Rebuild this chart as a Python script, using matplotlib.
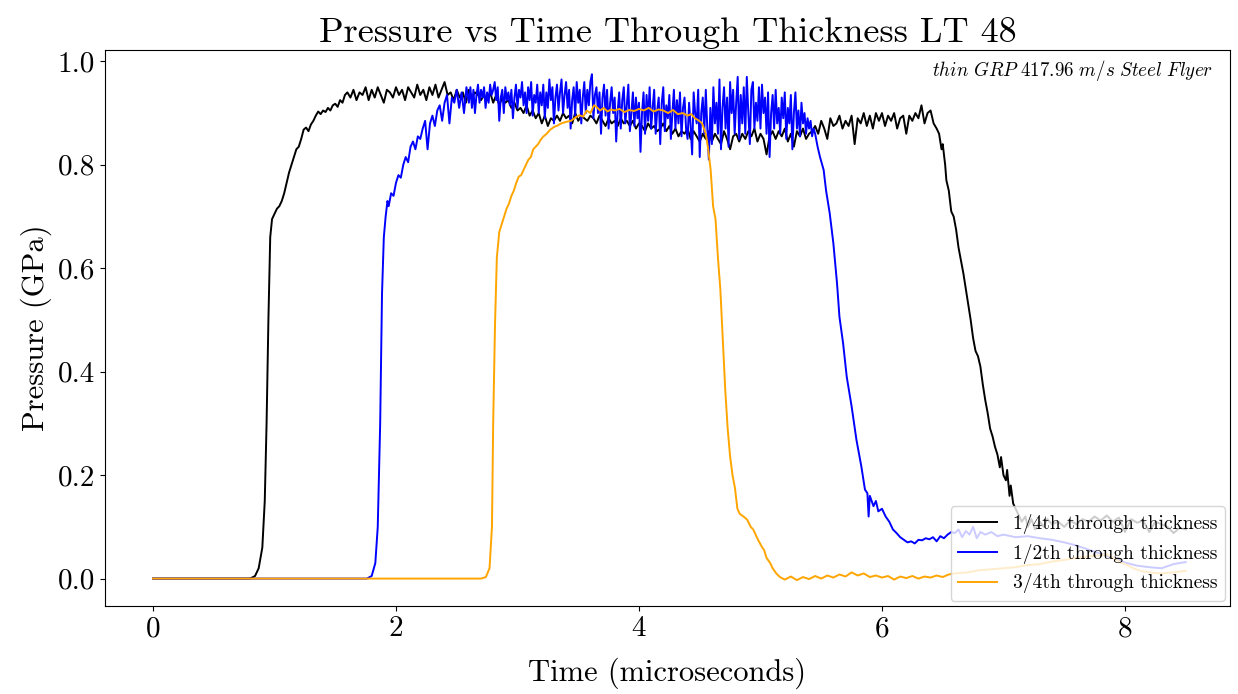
import numpy as np
import matplotlib
matplotlib.use("Agg")
import matplotlib.pyplot as plt

# ---------------- data ----------------
# 1/4th through thickness (black)
black_rise_t = [0.0, 0.80, 0.84, 0.87, 0.90, 0.92, 0.935, 0.95, 0.965, 0.98, 1.00, 1.02, 1.04,
                1.06, 1.08, 1.10, 1.12, 1.14, 1.16, 1.18, 1.20, 1.22, 1.24, 1.26, 1.28, 1.30,
                1.32, 1.34, 1.36, 1.38, 1.40, 1.42, 1.44, 1.46, 1.48, 1.50, 1.52, 1.54, 1.56,
                1.58, 1.60]
black_rise_p = [0.0, 0.0, 0.005, 0.02, 0.06, 0.15, 0.30, 0.50, 0.66, 0.695, 0.705, 0.715, 0.72,
                0.73, 0.745, 0.765, 0.785, 0.80, 0.815, 0.83, 0.835, 0.85, 0.868, 0.872, 0.865,
                0.878, 0.885, 0.895, 0.903, 0.898, 0.905, 0.902, 0.91, 0.905, 0.915, 0.918,
                0.912, 0.925, 0.92, 0.935, 0.94]
# plateau sampled every 0.025 us from 1.625 to 6.45
black_plateau_start = 1.625
black_dt = 0.025
black_plateau_p = [
    0.93, 0.945, 0.925, 0.94, 0.935, 0.95, 0.925, 0.945, 0.93, 0.95, 0.935, 0.92,
    0.945, 0.94, 0.93, 0.95, 0.935, 0.945, 0.925, 0.95, 0.94, 0.93, 0.955, 0.935,
    0.945, 0.925, 0.95, 0.935, 0.955, 0.93, 0.945, 0.96, 0.935, 0.94, 0.925, 0.945,
    0.93, 0.94, 0.92, 0.945, 0.93, 0.94, 0.935, 0.925,
    0.935, 0.925, 0.94, 0.92, 0.935, 0.915, 0.93, 0.92, 0.925, 0.91, 0.92, 0.905,
    0.91, 0.90, 0.915, 0.895, 0.905, 0.89, 0.90, 0.88, 0.895, 0.875, 0.89, 0.885,
    0.895, 0.885, 0.90, 0.89, 0.895, 0.88, 0.90, 0.885, 0.895, 0.89, 0.885, 0.895,
    0.89, 0.88, 0.895, 0.885, 0.875, 0.89, 0.88, 0.885, 0.875, 0.89, 0.88, 0.885,
    0.875, 0.885, 0.87, 0.88, 0.875, 0.865, 0.88, 0.87, 0.875, 0.865, 0.87, 0.88,
    0.865, 0.875, 0.86, 0.87, 0.855, 0.865, 0.86, 0.87, 0.85, 0.865, 0.855, 0.845,
    0.86, 0.85, 0.865, 0.845, 0.86, 0.85, 0.84, 0.865, 0.85, 0.83, 0.855, 0.86,
    0.845, 0.86, 0.85, 0.865, 0.855, 0.87, 0.845, 0.86, 0.85, 0.82, 0.855, 0.865,
    0.85, 0.865, 0.855, 0.87, 0.845, 0.86, 0.835, 0.865, 0.855, 0.87, 0.85, 0.86,
    0.865, 0.875, 0.86, 0.885, 0.87, 0.85, 0.89, 0.875, 0.88, 0.895, 0.87, 0.885,
    0.875, 0.895, 0.84, 0.89, 0.88, 0.90, 0.875, 0.895, 0.87, 0.90, 0.885, 0.90,
    0.875, 0.895, 0.885, 0.90, 0.87, 0.89, 0.895, 0.86, 0.895, 0.885, 0.90, 0.89,
    0.915, 0.88, 0.90, 0.905, 0.88, 0.87]
black_fall_t = [6.47, 6.49, 6.50, 6.52, 6.53, 6.55, 6.57, 6.59, 6.61, 6.63, 6.65, 6.67, 6.69,
                6.71, 6.73, 6.75, 6.77, 6.79, 6.81, 6.83, 6.85, 6.87, 6.89, 6.91, 6.93, 6.95,
                6.97, 6.98, 7.00, 7.02, 7.03, 7.05, 7.06, 7.08, 7.10, 7.12, 7.15, 7.18, 7.20,
                7.23, 7.26, 7.30, 7.33, 7.36, 7.40, 7.45, 7.50, 7.55, 7.60, 7.65, 7.70, 7.75,
                7.80, 7.85, 7.90, 7.95, 8.00, 8.05, 8.10, 8.15, 8.20, 8.25, 8.30, 8.35, 8.40,
                8.45, 8.50]
black_fall_p = [0.86, 0.83, 0.84, 0.80, 0.77, 0.75, 0.71, 0.70, 0.675, 0.64, 0.615, 0.59, 0.56,
                0.53, 0.50, 0.465, 0.44, 0.43, 0.41, 0.375, 0.345, 0.32, 0.29, 0.275, 0.255,
                0.24, 0.215, 0.235, 0.20, 0.19, 0.21, 0.16, 0.18, 0.145, 0.135, 0.125, 0.11,
                0.12, 0.10, 0.115, 0.095, 0.11, 0.10, 0.115, 0.105, 0.11, 0.10, 0.112, 0.105,
                0.115, 0.11, 0.12, 0.112, 0.122, 0.11, 0.118, 0.09, 0.115, 0.108, 0.112, 0.09,
                0.11, 0.105, 0.10, 0.088, 0.098, 0.095]

# 1/2th through thickness (blue)
blue_rise_t = [0.0, 1.76, 1.80, 1.83, 1.85, 1.87, 1.885, 1.90, 1.915, 1.93, 1.94, 1.96, 1.98,
               2.00, 2.02, 2.04, 2.06, 2.08, 2.10, 2.12, 2.14, 2.16, 2.18, 2.20, 2.22, 2.24,
               2.26, 2.28, 2.30, 2.32, 2.34, 2.36, 2.38, 2.40, 2.42, 2.44, 2.46, 2.48, 2.50,
               2.52, 2.54, 2.56, 2.58]
blue_rise_p = [0.0, 0.0, 0.005, 0.03, 0.10, 0.30, 0.55, 0.66, 0.70, 0.73, 0.72, 0.745, 0.74,
               0.765, 0.78, 0.775, 0.80, 0.815, 0.805, 0.835, 0.845, 0.83, 0.855, 0.85, 0.87,
               0.885, 0.83, 0.88, 0.895, 0.875, 0.905, 0.915, 0.885, 0.92, 0.935, 0.88, 0.93,
               0.92, 0.945, 0.91, 0.94, 0.90, 0.95]
# plateau sampled every 0.0125 us from 2.60 to 5.45
blue_plateau_start = 2.60
blue_dt = 0.0125
blue_plateau_p = [
    0.92, 0.95, 0.91, 0.945, 0.90, 0.935, 0.955, 0.92, 0.945, 0.93, 0.95, 0.91, 0.94, 0.92, 0.955, 0.935,
    0.945, 0.96, 0.925, 0.95, 0.885, 0.93, 0.945, 0.90, 0.95, 0.925, 0.94, 0.915, 0.945, 0.89, 0.93, 0.955,
    0.91, 0.945, 0.93, 0.96, 0.915, 0.94, 0.90, 0.95, 0.925, 0.96, 0.895, 0.935, 0.92, 0.955, 0.90, 0.94,
    0.915, 0.955, 0.89, 0.94, 0.91, 0.965, 0.925, 0.95, 0.88, 0.93, 0.955, 0.905, 0.94, 0.965, 0.90, 0.935,
    0.96, 0.91, 0.945, 0.87, 0.925, 0.95, 0.895, 0.96, 0.92, 0.945, 0.88, 0.93, 0.96, 0.90, 0.945, 0.915,
    0.96, 0.975, 0.89, 0.935, 0.95, 0.90, 0.94, 0.86, 0.93, 0.955, 0.895, 0.945, 0.87, 0.92, 0.95, 0.90,
    0.93, 0.845, 0.905, 0.94, 0.87, 0.925, 0.95, 0.88, 0.915, 0.955, 0.865, 0.90, 0.94, 0.875, 0.93, 0.89,
    0.92, 0.825, 0.90, 0.94, 0.86, 0.935, 0.885, 0.95, 0.87, 0.91, 0.945, 0.86, 0.905, 0.93, 0.84, 0.92,
    0.95, 0.865, 0.915, 0.89, 0.935, 0.85, 0.90, 0.945, 0.87, 0.925, 0.88, 0.94, 0.855, 0.91, 0.93, 0.87,
    0.85, 0.92, 0.875, 0.82, 0.94, 0.90, 0.88, 0.945, 0.815, 0.90, 0.93, 0.86, 0.945, 0.87, 0.81, 0.91,
    0.84, 0.95, 0.88, 0.92, 0.86, 0.965, 0.83, 0.91, 0.95, 0.87, 0.93, 0.835, 0.96, 0.90, 0.945, 0.86,
    0.92, 0.97, 0.85, 0.935, 0.88, 0.95, 0.86, 0.97, 0.90, 0.84, 0.945, 0.96, 0.87, 0.92, 0.885, 0.95,
    0.87, 0.955, 0.90, 0.93, 0.86, 0.94, 0.815, 0.90, 0.935, 0.87, 0.945, 0.88, 0.91, 0.86, 0.93, 0.89,
    0.94, 0.85, 0.91, 0.88, 0.935, 0.83, 0.90, 0.94, 0.87, 0.905, 0.855, 0.92, 0.88, 0.90, 0.86, 0.89,
    0.87, 0.885, 0.855, 0.87, 0.86]
blue_fall_t = [5.47, 5.49, 5.52, 5.54, 5.57, 5.60, 5.63, 5.65, 5.68, 5.71, 5.75, 5.79, 5.83,
               5.86, 5.88, 5.89, 5.90, 5.93, 5.95, 5.97, 6.00, 6.03, 6.06, 6.09, 6.12, 6.15,
               6.18, 6.21, 6.24, 6.27, 6.30, 6.33, 6.36, 6.39, 6.42, 6.45, 6.48, 6.51, 6.54,
               6.57, 6.60, 6.63, 6.66, 6.69, 6.72, 6.75, 6.78, 6.81, 6.85, 6.90, 6.95, 7.00,
               7.10, 7.20, 7.30, 7.40, 7.50, 7.60, 7.70, 7.80, 7.90, 8.00, 8.10, 8.20, 8.30,
               8.40, 8.50]
blue_fall_p = [0.835, 0.815, 0.79, 0.75, 0.706, 0.648, 0.571, 0.506, 0.455, 0.39, 0.333, 0.268,
               0.217, 0.172, 0.165, 0.12, 0.16, 0.14, 0.15, 0.13, 0.135, 0.12, 0.11, 0.095,
               0.088, 0.08, 0.075, 0.07, 0.072, 0.068, 0.075, 0.074, 0.078, 0.076, 0.08, 0.072,
               0.082, 0.078, 0.085, 0.09, 0.088, 0.095, 0.08, 0.092, 0.085, 0.10, 0.078, 0.09,
               0.085, 0.09, 0.082, 0.085, 0.08, 0.082, 0.078, 0.075, 0.07, 0.064, 0.056, 0.048,
               0.04, 0.031, 0.025, 0.022, 0.02, 0.028, 0.032]

# 3/4th through thickness (orange)
orange_t = [0.0, 2.70, 2.74, 2.77, 2.79, 2.80, 2.815, 2.83, 2.85, 2.87, 2.89, 2.91, 2.93, 2.95,
            2.97, 2.99, 3.01, 3.03, 3.05, 3.07, 3.09, 3.11, 3.13, 3.15, 3.17, 3.19, 3.21,
            3.24, 3.27, 3.30, 3.33, 3.36, 3.40, 3.44, 3.48, 3.51, 3.54, 3.57, 3.60, 3.63,
            3.65, 3.68, 3.71, 3.74, 3.77, 3.80, 3.84, 3.88, 3.92, 3.96, 4.00, 4.04, 4.08,
            4.12, 4.16, 4.20, 4.24, 4.28, 4.32, 4.36, 4.40, 4.43, 4.46, 4.49, 4.52, 4.55,
            4.57, 4.59, 4.61, 4.63, 4.65, 4.67, 4.69, 4.71, 4.73, 4.75, 4.77, 4.79, 4.81,
            4.83, 4.86, 4.89, 4.92, 4.94, 4.96, 4.98, 5.01, 5.03, 5.05, 5.08, 5.10, 5.13,
            5.16, 5.20, 5.25, 5.30, 5.35, 5.40, 5.45, 5.50, 5.55, 5.60, 5.65, 5.70, 5.75,
            5.80, 5.85, 5.90, 5.95, 6.00, 6.05, 6.10, 6.15, 6.20, 6.25, 6.30, 6.35, 6.40,
            6.45, 6.50, 6.55, 6.60, 6.70, 6.80, 6.90, 7.00, 7.10, 7.20, 7.30, 7.40, 7.50,
            7.60, 7.70, 7.80, 7.85, 7.90, 7.95, 8.00, 8.05, 8.10, 8.15, 8.20, 8.30, 8.40,
            8.50]
orange_p = [0.0, 0.0, 0.003, 0.02, 0.10, 0.30, 0.49, 0.62, 0.67, 0.685, 0.70, 0.715, 0.725,
            0.74, 0.75, 0.765, 0.777, 0.78, 0.79, 0.80, 0.81, 0.815, 0.83, 0.835, 0.84, 0.848,
            0.854, 0.86, 0.868, 0.873, 0.876, 0.88, 0.883, 0.885, 0.892, 0.896, 0.893, 0.905,
            0.90, 0.915, 0.912, 0.905, 0.91, 0.903, 0.907, 0.905, 0.908, 0.902, 0.906, 0.904,
            0.908, 0.905, 0.91, 0.903, 0.907, 0.905, 0.90, 0.906, 0.898, 0.90, 0.895, 0.898,
            0.89, 0.886, 0.88, 0.86, 0.83, 0.79, 0.72, 0.695, 0.62, 0.558, 0.46, 0.365, 0.29,
            0.236, 0.20, 0.175, 0.135, 0.125, 0.12, 0.114, 0.10, 0.095, 0.085, 0.075, 0.062,
            0.055, 0.04, 0.03, 0.02, 0.01, 0.003, -0.002, 0.004, -0.003, 0.003, -0.001, 0.005,
            0.0, 0.006, 0.002, 0.008, 0.004, 0.012, 0.006, 0.01, 0.003, 0.006, 0.002, 0.005,
            -0.002, 0.004, 0.001, 0.005, 0.0, 0.004, 0.002, 0.006, 0.003, 0.008, 0.01, 0.012,
            0.016, 0.018, 0.02, 0.022, 0.026, 0.028, 0.033, 0.036, 0.04, 0.043, 0.045, 0.047,
            0.04, 0.033, 0.028, 0.022, 0.017, 0.014, 0.012, 0.01, 0.012, 0.015]

labels = ["1/4th through thickness", "1/2th through thickness", "3/4th through thickness"]
colors = ["black", "blue", "orange"]
title = "Pressure vs Time Through Thickness LT 48"
xlabel = "Time (microseconds)"
ylabel = "Pressure (GPa)"
note = "thin GRP 417.96 m/s Steel Flyer"

# ---------------- assemble series ----------------
def build(rise_t, rise_p, start, step, plateau, fall_t, fall_p):
    pt = start + step * np.arange(len(plateau))
    t = np.concatenate([rise_t, pt, fall_t])
    p = np.concatenate([rise_p, plateau, fall_p])
    return t, p

bt, bp = build(black_rise_t, black_rise_p, black_plateau_start, black_dt, black_plateau_p,
               black_fall_t, black_fall_p)
ut, up = build(blue_rise_t, blue_rise_p, blue_plateau_start, blue_dt, blue_plateau_p,
               blue_fall_t, blue_fall_p)
ot, op = np.array(orange_t), np.array(orange_p)

# ---------------- plot ----------------
plt.rcParams["font.family"] = ["cmr10", "DejaVu Serif"]
plt.rcParams["mathtext.fontset"] = "cm"
plt.rcParams["axes.formatter.use_mathtext"] = True

fig = plt.figure(figsize=(12.38, 6.94), dpi=100)
ax = fig.add_axes([0.0848, 0.1268, 0.9087, 0.8012])

for (t, p), lab, col in zip([(bt, bp), (ut, up), (ot, op)], labels, colors):
    ax.plot(t, p, color=col, lw=1.4, label=lab)

ax.set_xlim(-0.395, 8.864)
ax.set_ylim(-0.053, 1.022)
ax.set_xticks([0, 2, 4, 6, 8])
ax.set_yticks([0.0, 0.2, 0.4, 0.6, 0.8, 1.0])
ax.set_yticklabels(["0.0", "0.2", "0.4", "0.6", "0.8", "1.0"])
ax.tick_params(labelsize=21)
ax.set_title(title, fontsize=26)
ax.set_xlabel(xlabel, fontsize=22, labelpad=11)
ax.set_ylabel(ylabel, fontsize=22)
ax.text(0.985, 0.985, r"$\mathit{" + note.replace(" ", r"\ ") + "}$",
        transform=ax.transAxes, ha="right", va="top", fontsize=13.7)
ax.legend(loc="lower right", fontsize=14, borderaxespad=0.25)

fig.savefig("out.png", dpi=100)
